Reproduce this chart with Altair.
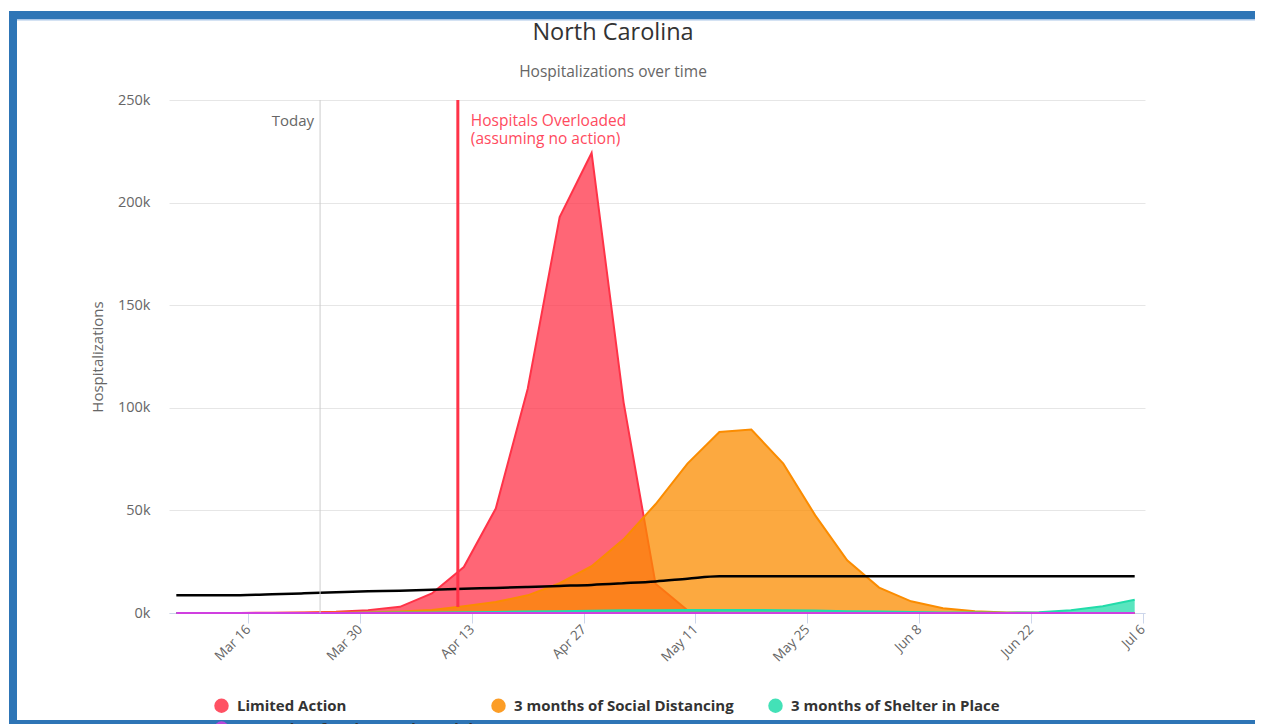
import altair as alt
import pandas as pd

# ---- data ----
dates = pd.date_range("2020-03-07", periods=31, freq="4D").strftime("%Y-%m-%d").tolist()

series_names = [
    "Limited Action",
    "3 months of Social Distancing",
    "3 months of Shelter in Place",
    "3 months of Wuhan-Style Lockdown",
]
series_colors = ["#ff3348", "#fb8c00", "#22dcaa", "#d03fe0"]

limited_action = [0, 0, 50, 100, 300, 600, 1400, 3000, 9500, 22400, 50900, 109300,
                  193000, 224200, 102800, 14300, 1300, 300, 100, 50, 0, 0, 0, 0,
                  0, 0, 0, 0, 0, 0, 0]
social_distancing = [0, 0, 0, 50, 100, 200, 300, 700, 1500, 3300, 5400, 8600,
                     14500, 22800, 35900, 53000, 72800, 88200, 89400, 72800, 47600,
                     25700, 12400, 5700, 2300, 800, 300, 100, 50, 0, 0]
shelter_in_place = [0, 0, 0, 0, 0, 50, 100, 200, 300, 400, 500, 700, 900, 1100,
                    1300, 1400, 1500, 1500, 1500, 1400, 1200, 900, 700, 500, 300,
                    200, 150, 400, 1300, 3300, 6500]
wuhan_lockdown = [0, 0, 0, 0, 0, 0, 0, 0, 0, 0, 0, 0, 0, 0, 0, 0, 0, 0, 0, 0,
                  0, 0, 0, 0, 0, 0, 0, 0, 0, 0, 0]
hospital_capacity = [8600, 8600, 8700, 9100, 9600, 10100, 10600, 10900, 11300,
                     11800, 12200, 12700, 13200, 13700, 14500, 15400, 16700, 17900,
                     17900, 17900, 17900, 17900, 17900, 17900, 17900, 17900, 17900,
                     17900, 17900, 17900, 17900]

tick_dates = ["2020-03-16", "2020-03-30", "2020-04-13", "2020-04-27", "2020-05-11",
              "2020-05-25", "2020-06-08", "2020-06-22", "2020-07-06"]
y_ticks = [0, 50000, 100000, 150000, 200000, 250000]

title_text = "North Carolina"
subtitle_text = "Hospitalizations over time"
today_date = "2020-03-25"
overload_date = "2020-04-11T06:00:00Z"

FONT = "Open Sans"
W, H = 976, 513


def dt(s, hours=0):
    y, m, d = (int(p) for p in s.split("-"))
    return alt.DateTime(year=y, month=m, date=d, hours=hours, utc=True)


x_scale = alt.Scale(type="utc", domain=[dt("2020-03-06", 2), dt("2020-07-06", 7)])
y_scale = alt.Scale(domain=[0, 250000], nice=False, zero=True)
color_scale = alt.Scale(domain=series_names, range=series_colors)

x_enc = alt.X(
    "date:T",
    scale=x_scale,
    axis=alt.Axis(
        values=[dt(t) for t in tick_dates],
        format="%b %-d",
        labelAngle=315,
        labelAlign="right",
        labelBaseline="middle",
        labelFont=FONT,
        labelFontSize=13.5,
        labelColor="#666666",
        labelPadding=4,
        tickColor="#ccd6eb",
        tickSize=10,
        domainColor="#ccd6eb",
        domainWidth=1,
        grid=False,
        title=None,
    ),
)
y_enc = alt.Y(
    "value:Q",
    scale=y_scale,
    stack=None,
    axis=alt.Axis(
        values=y_ticks,
        format="~s",
        labelFont=FONT,
        labelFontSize=14.5,
        labelColor="#666666",
        labelPadding=19,
        ticks=False,
        domain=False,
        grid=True,
        gridColor="#e6e6e6",
        title="Hospitalizations",
        titleFont=FONT,
        titleFontSize=15,
        titleFontWeight="normal",
        titleColor="#666666",
        titlePadding=12,
    ),
)

layers = []
all_vals = [limited_action, social_distancing, shelter_in_place, wuhan_lockdown]
for name, col, vals in zip(series_names, series_colors, all_vals):
    df = pd.DataFrame({"date": dates, "value": vals, "series": name})
    base = alt.Chart(df)
    area = base.mark_area(fillOpacity=0.75, strokeWidth=0).encode(
        x=x_enc,
        y=y_enc,
        color=alt.Color(
            "series:N",
            scale=color_scale,
            legend=alt.Legend(
                title=None,
                orient="none",
                legendX=45,
                legendY=598,
                direction="horizontal",
                columns=3,
                gridAlign="all",
                columnPadding=5,
                rowPadding=7,
                symbolType="circle",
                symbolSize=210,
                symbolOpacity=0.85,
                symbolStrokeWidth=0,
                labelFont=FONT,
                labelFontSize=15,
                labelFontWeight="bold",
                labelColor="#333333",
                labelOffset=8,
                labelLimit=250,
            ),
        ),
    )
    line = base.mark_line(strokeWidth=2, color=col).encode(x="date:T", y="value:Q")
    layers += [area, line]

cap_df = pd.DataFrame({"date": dates, "value": hospital_capacity})
cap_line = alt.Chart(cap_df).mark_line(color="#000000", strokeWidth=2.5, interpolate="monotone").encode(
    x="date:T", y="value:Q"
)

today_df = pd.DataFrame({"date": [today_date], "label": ["Today"]})
today_rule = alt.Chart(today_df).mark_rule(color="#cccccc", strokeWidth=1).encode(
    x="date:T", y=alt.value(0), y2=alt.value(H)
)
today_text = alt.Chart(today_df).mark_text(
    align="right", baseline="middle", dx=-6, font=FONT, fontSize=15, color="#666666"
).encode(x="date:T", y=alt.value(21), text="label:N")

over_df = pd.DataFrame({"date": [overload_date],
                        "label": ["Hospitals Overloaded\n(assuming no action)"]})
over_rule = alt.Chart(over_df).mark_rule(color="#ff3348", strokeWidth=3).encode(
    x="date:T", y=alt.value(0), y2=alt.value(507)
)
over_text = alt.Chart(over_df).mark_text(
    align="left", baseline="middle", dx=13, font=FONT, fontSize=15.5, color="#ff4a5e",
    lineBreak="\n", lineHeight=18,
).encode(x="date:T", y=alt.value(21), text="label:N")

# chart title and subtitle drawn as text marks
title_df = pd.DataFrame({"t": [title_text], "s": [subtitle_text]})
title_mark = alt.Chart(title_df).mark_text(
    align="center", baseline="middle", font=FONT, fontSize=23.5, color="#333333"
).encode(x=alt.value(444), y=alt.value(-67), text="t:N")
subtitle_mark = alt.Chart(title_df).mark_text(
    align="center", baseline="middle", font=FONT, fontSize=15.5, color="#666666"
).encode(x=alt.value(444), y=alt.value(-28), text="s:N")

# decorative blue page frame (top, left, bottom bars) as filled rectangles
frame_df = pd.DataFrame({"k": [0]})
frame_top = alt.Chart(frame_df).mark_rect(color="#2e75b6", strokeWidth=0).encode(
    x=alt.value(-160), x2=alt.value(1100), y=alt.value(-89), y2=alt.value(-81)
)
frame_left = alt.Chart(frame_df).mark_rect(color="#2e75b6", strokeWidth=0).encode(
    x=alt.value(-160), x2=alt.value(-152), y=alt.value(-89), y2=alt.value(626)
)
frame_bottom = alt.Chart(frame_df).mark_rect(color="#2e75b6", strokeWidth=0).encode(
    x=alt.value(-160), x2=alt.value(1100), y=alt.value(620), y2=alt.value(626)
)
frame_inner = alt.Chart(frame_df).mark_rect(color="#a9c6e8", strokeWidth=0).encode(
    x=alt.value(-152), x2=alt.value(1100), y=alt.value(-81), y2=alt.value(-79.5)
)

chart = alt.layer(
    *layers, cap_line, today_rule, over_rule, today_text, over_text,
    title_mark, subtitle_mark,
    frame_top, frame_left, frame_bottom, frame_inner
).properties(
    width=W,
    height=H,
    autosize=alt.AutoSizeParams(type="none"),
    padding={"left": 161, "top": 92, "right": 110, "bottom": 116},
    background="white",
).configure_view(stroke=None)

chart.save("out.html", embed_options={"renderer": "svg", "actions": False})
